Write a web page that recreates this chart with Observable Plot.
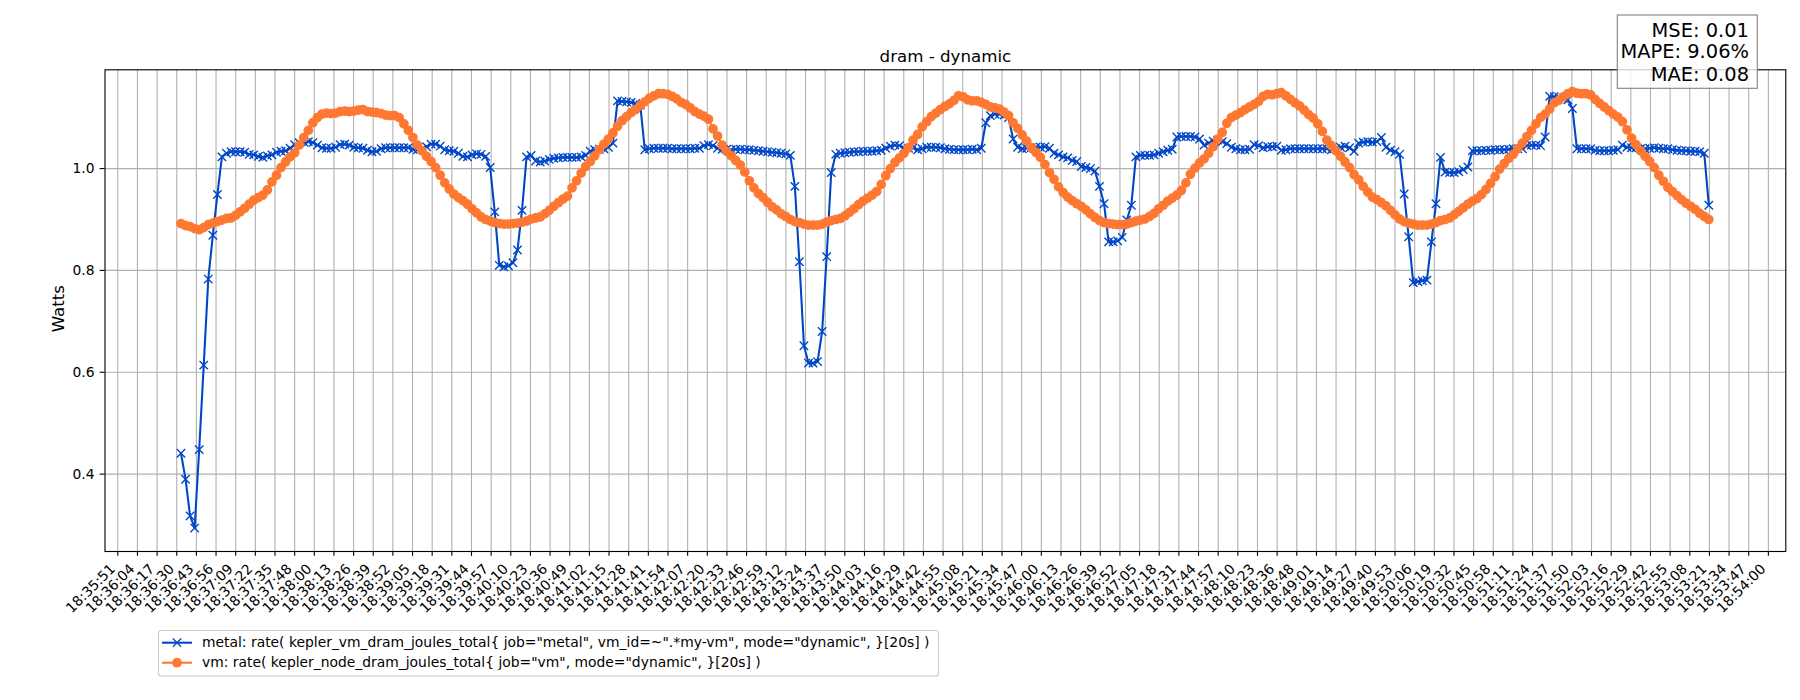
<!DOCTYPE html>
<html><head><meta charset="utf-8">
<script src="https://cdn.jsdelivr.net/npm/d3@7"></script>
<script src="https://cdn.jsdelivr.net/npm/@observablehq/plot@0.6"></script>
<style>
html,body{margin:0;padding:0;background:#fff;}
#wrap{position:relative;width:1800px;height:700px;font-family:"DejaVu Sans",sans-serif;}
#wrap > svg{position:absolute;left:0;top:0;}
</style></head><body><div id="wrap"></div>
<script>
// ---------- data ----------
const title = "dram - dynamic";
const yLabel = "Watts";
const seriesNames = [
  'metal: rate( kepler_vm_dram_joules_total{ job="metal", vm_id=~".*my-vm", mode="dynamic", }[20s] )',
  'vm: rate( kepler_node_dram_joules_total{ job="vm", mode="dynamic", }[20s] )'
];
const metricLabels = ["MSE: 0.01", "MAPE: 9.06%", "MAE: 0.08"];
const tickLabels = ["18:35:51","18:36:04","18:36:17","18:36:30","18:36:43","18:36:56","18:37:09","18:37:22","18:37:35","18:37:48",
"18:38:00","18:38:13","18:38:26","18:38:39","18:38:52","18:39:05","18:39:18","18:39:31","18:39:44","18:39:57",
"18:40:10","18:40:23","18:40:36","18:40:49","18:41:02","18:41:15","18:41:28","18:41:41","18:41:54","18:42:07",
"18:42:20","18:42:33","18:42:46","18:42:59","18:43:12","18:43:24","18:43:37","18:43:50","18:44:03","18:44:16",
"18:44:29","18:44:42","18:44:55","18:45:08","18:45:21","18:45:34","18:45:47","18:46:00","18:46:13","18:46:26",
"18:46:39","18:46:52","18:47:05","18:47:18","18:47:31","18:47:44","18:47:57","18:48:10","18:48:23","18:48:36",
"18:48:48","18:49:01","18:49:14","18:49:27","18:49:40","18:49:53","18:50:06","18:50:19","18:50:32","18:50:45",
"18:50:58","18:51:11","18:51:24","18:51:37","18:51:50","18:52:03","18:52:16","18:52:29","18:52:42","18:52:55",
"18:53:08","18:53:21","18:53:34","18:53:47","18:54:00"];
const yTicks = [0.4, 0.6, 0.8, 1.0];
const sampleStart = "18:36:32.7";
const sampleStepSeconds = 3;
const metalWatts = [
0.441,0.390,0.318,0.294,0.448,0.614,0.783,0.869,0.949,1.023,
1.030,1.033,1.033,1.033,1.032,1.028,1.027,1.024,1.022,1.025,
1.027,1.032,1.034,1.035,1.040,1.047,1.051,1.052,1.053,1.051,
1.046,1.041,1.040,1.040,1.042,1.047,1.048,1.046,1.042,1.041,
1.040,1.036,1.033,1.034,1.039,1.041,1.041,1.041,
1.041,1.041,1.041,1.038,1.037,1.038,1.043,1.048,1.048,1.044,
1.037,1.035,1.034,1.030,1.024,1.023,1.027,1.029,1.028,1.024,
1.002,0.915,0.810,0.807,0.809,0.815,0.840,0.918,1.023,1.026,
1.015,1.013,1.015,1.018,1.020,1.021,1.022,1.022,1.022,1.022,
1.023,1.026,1.034,1.037,1.038,1.039,1.042,1.050,1.133,1.132,
1.131,1.130,1.128,1.125,1.037,1.039,1.040,1.040,1.040,1.040,
1.039,1.039,1.039,
1.039,1.039,1.040,1.040,1.045,1.047,1.045,1.040,1.038,1.038,
1.037,1.038,1.038,1.037,1.037,1.036,1.035,1.034,1.033,1.032,
1.031,1.030,1.029,1.026,0.965,0.817,0.652,0.618,0.618,0.621,
0.680,0.827,0.992,1.028,1.030,1.031,1.032,1.033,1.033,1.034,
1.034,1.034,1.035,1.036,1.040,1.044,1.046,1.045,1.040,1.040,
1.041,1.037,1.039,1.042,1.042,1.042,1.041,1.039,1.038,1.037,
1.037,1.037,1.037,1.038,
1.037,1.040,1.090,1.104,1.107,1.107,1.105,1.100,1.058,1.042,
1.039,1.040,1.041,1.042,1.042,1.043,1.040,1.030,1.027,1.023,
1.021,1.016,1.014,1.004,1.002,1.000,0.995,0.965,0.931,0.856,
0.856,0.858,0.865,0.899,0.928,1.023,1.026,1.026,1.026,1.027,
1.030,1.033,1.036,1.038,1.062,1.063,1.063,1.063,1.062,1.058,
1.046,1.050,1.054,1.056,1.053,1.049,1.042,1.039,1.037,1.037,
1.038,1.047,1.045,1.041,
1.043,1.043,1.044,1.036,1.037,1.039,1.039,1.039,1.039,1.039,
1.039,1.039,1.039,1.039,1.037,1.039,1.042,1.044,1.041,1.034,
1.050,1.052,1.053,1.052,1.053,1.061,1.042,1.036,1.033,1.028,
0.950,0.866,0.776,0.778,0.780,0.781,0.856,0.931,1.022,0.993,
0.992,0.992,0.994,0.998,1.003,1.035,1.035,1.035,1.036,1.036,
1.037,1.037,1.037,1.038,1.039,1.039,1.039,1.045,1.046,1.046,
1.045,1.062,1.142,
1.141,1.140,1.138,1.135,1.118,1.039,1.039,1.039,1.039,1.036,
1.035,1.035,1.035,1.036,1.037,1.046,1.042,1.041,1.041,1.039,
1.039,1.040,1.041,1.040,1.039,1.039,1.037,1.036,1.035,1.035,
1.034,1.034,1.033,1.030,0.928];
const vmWatts = [
0.892,0.888,0.886,0.882,0.880,0.884,0.890,0.893,0.896,0.899,
0.902,0.903,0.908,0.915,0.922,0.930,0.938,0.943,0.948,0.958,
0.974,0.987,1.002,1.013,1.023,1.031,1.046,1.061,1.075,1.090,
1.100,1.107,1.109,1.108,1.109,1.112,1.113,1.112,1.113,1.115,
1.116,1.112,1.111,1.110,1.108,1.105,1.104,1.104,
1.100,1.088,1.075,1.061,1.046,1.035,1.024,1.014,1.002,0.987,
0.972,0.960,0.950,0.943,0.937,0.930,0.921,0.913,0.905,0.900,
0.897,0.894,0.892,0.891,0.891,0.892,0.893,0.895,0.897,0.901,
0.903,0.905,0.911,0.918,0.926,0.933,0.940,0.946,0.962,0.976,
0.991,1.004,1.014,1.025,1.037,1.048,1.058,1.070,1.083,1.094,
1.102,1.110,1.116,1.124,1.131,1.138,1.143,1.147,1.147,1.146,
1.142,1.137,1.130,
1.126,1.119,1.112,1.107,1.103,1.097,1.078,1.064,1.046,1.034,
1.025,1.016,1.007,0.993,0.976,0.962,0.951,0.943,0.934,0.925,
0.919,0.911,0.906,0.900,0.896,0.894,0.891,0.889,0.889,0.889,
0.891,0.895,0.898,0.900,0.902,0.907,0.914,0.921,0.929,0.936,
0.942,0.948,0.955,0.969,0.986,1.000,1.012,1.021,1.030,1.041,
1.056,1.067,1.082,1.092,1.102,1.109,1.116,1.122,1.127,1.134,
1.143,1.141,1.135,1.133,
1.133,1.130,1.126,1.121,1.119,1.117,1.111,1.104,1.090,1.079,
1.066,1.054,1.041,1.032,1.022,1.008,0.992,0.979,0.964,0.953,
0.944,0.937,0.931,0.926,0.919,0.911,0.904,0.898,0.894,0.892,
0.891,0.890,0.890,0.891,0.894,0.897,0.899,0.901,0.906,0.912,
0.921,0.928,0.936,0.942,0.948,0.957,0.972,0.989,1.001,1.011,
1.019,1.030,1.043,1.058,1.071,1.089,1.100,1.105,1.110,1.116,
1.121,1.126,1.132,1.142,
1.146,1.145,1.147,1.149,1.143,1.136,1.129,1.123,1.115,1.106,
1.099,1.088,1.073,1.056,1.045,1.035,1.024,1.013,1.002,0.988,
0.978,0.965,0.954,0.944,0.939,0.933,0.927,0.918,0.909,0.901,
0.896,0.893,0.891,0.889,0.889,0.889,0.891,0.894,0.898,0.900,
0.903,0.909,0.916,0.923,0.930,0.936,0.941,0.949,0.959,0.971,
0.984,0.999,1.010,1.020,1.028,1.039,1.050,1.063,1.075,1.088,
1.100,1.107,1.117,
1.129,1.134,1.141,1.147,1.151,1.148,1.147,1.147,1.145,1.136,
1.128,1.121,1.114,1.107,1.101,1.092,1.076,1.060,1.047,1.035,
1.024,1.014,1.002,0.987,0.975,0.963,0.955,0.947,0.939,0.932,
0.926,0.920,0.912,0.906,0.900];

// ---------- build ----------
const BLUE = "#0047c8";
const ORANGE = "#ff7832";
const GRID = "#b0b0b0";
const toSec = s => { const [h, m, sec] = s.split(":").map(Number); return h * 3600 + m * 60 + sec; };
const t0 = toSec(tickLabels[0]);
const tEnd = toSec(tickLabels[tickLabels.length - 1]);
const tickPos = tickLabels.map((_, k) => t0 + k * (tEnd - t0) / (tickLabels.length - 1));
const labelAt = new Map(tickPos.map((p, k) => [p, tickLabels[k]]));
const start = toSec(sampleStart);
const metalRows = metalWatts.map((w, i) => ({t: start + i * sampleStepSeconds, w}));
const vmRows = vmWatts.map((w, i) => ({t: start + i * sampleStepSeconds, w}));

const chart = Plot.plot({
  width: 1800, height: 700,
  marginLeft: 104.5, marginRight: 14.7, marginTop: 69.3, marginBottom: 149,
  style: {fontFamily: "DejaVu Sans", fontSize: "13.89px", color: "black", background: "white", overflow: "visible"},
  x: {type: "linear", domain: [t0 - 8.44, t0 + 1100.5]},
  y: {domain: [0.248, 1.194]},
  marks: [
    Plot.gridX(tickPos, {stroke: GRID, strokeOpacity: 1, strokeWidth: 1.1}),
    Plot.gridY(yTicks, {stroke: GRID, strokeOpacity: 1, strokeWidth: 1.1}),
    Plot.line(metalRows, {x: "t", y: "w", stroke: BLUE, strokeWidth: 2.08}),
    Plot.dot(metalRows, {x: "t", y: "w", symbol: "times", r: 3.9, stroke: BLUE, strokeWidth: 1.39}),
    Plot.line(vmRows, {x: "t", y: "w", stroke: ORANGE, strokeWidth: 2.08}),
    Plot.dot(vmRows, {x: "t", y: "w", r: 4.17, fill: ORANGE, stroke: ORANGE, strokeWidth: 1.39}),
    Plot.frame({stroke: "black", strokeWidth: 1.11}),
    Plot.axisX(tickPos, {tickSize: 4.86, tickFormat: () => "", label: null, stroke: "black", strokeWidth: 1.11}),
    Plot.text(tickPos, {x: d => d, frameAnchor: "bottom", text: d => labelAt.get(d), rotate: -45,
      textAnchor: "end", lineAnchor: "middle", dx: -5, dy: 15, fontSize: 13.89, fill: "black"}),
    Plot.axisY(yTicks, {tickSize: 4.86, tickPadding: 5.6, tickFormat: d3.format(".1f"), label: null,
      fontSize: 13.89, stroke: "black", strokeWidth: 1.11}),
    Plot.text([title], {frameAnchor: "top", textAnchor: "middle", lineAnchor: "middle", dy: -13.6, fontSize: 16.67, fill: "black"}),
    Plot.text([yLabel], {frameAnchor: "left", rotate: -90, textAnchor: "middle", lineAnchor: "middle", dx: -46.5, dy: -2, fontSize: 16.67, fill: "black"})
  ]
});
const wrap = document.getElementById("wrap");
wrap.appendChild(chart);

// overlay: metrics box and legend
const ov = d3.select(wrap).append("svg").attr("width", 1800).attr("height", 700)
  .style("pointer-events", "none").style("font-family", '"DejaVu Sans", sans-serif');
ov.append("rect").attr("x", 1617.3).attr("y", 15).attr("width", 140).attr("height", 73.3)
  .attr("fill", "white").attr("fill-opacity", 0.8).attr("stroke", "#808080").attr("stroke-width", 1.1);
metricLabels.forEach((s, i) => {
  ov.append("text").attr("x", 1749).attr("y", [36.7, 58.3, 81][i]).attr("text-anchor", "end")
    .attr("font-size", 19.44).attr("fill", "black").text(s);
});
ov.append("rect").attr("x", 158.5).attr("y", 630.5).attr("width", 780).attr("height", 45.5).attr("rx", 2.8)
  .attr("fill", "white").attr("fill-opacity", 0.8).attr("stroke", "#cccccc").attr("stroke-width", 1.1);
const rowsY = [642.7, 662.7];
[BLUE, ORANGE].forEach((c, i) => {
  const y = rowsY[i];
  ov.append("line").attr("x1", 162).attr("x2", 192).attr("y1", y).attr("y2", y).attr("stroke", c).attr("stroke-width", 2.08);
  if (i === 0) {
    const h = 4.17;
    ov.append("path").attr("d", `M${177 - h},${y - h}L${177 + h},${y + h}M${177 - h},${y + h}L${177 + h},${y - h}`)
      .attr("stroke", c).attr("stroke-width", 1.39).attr("fill", "none");
  } else {
    ov.append("circle").attr("cx", 177).attr("cy", y).attr("r", 4.17).attr("fill", c).attr("stroke", c).attr("stroke-width", 1.39);
  }
  ov.append("text").attr("x", 202).attr("y", y + 4.0).attr("font-size", 13.89).attr("fill", "black").text(seriesNames[i]);
});
</script></body></html>
